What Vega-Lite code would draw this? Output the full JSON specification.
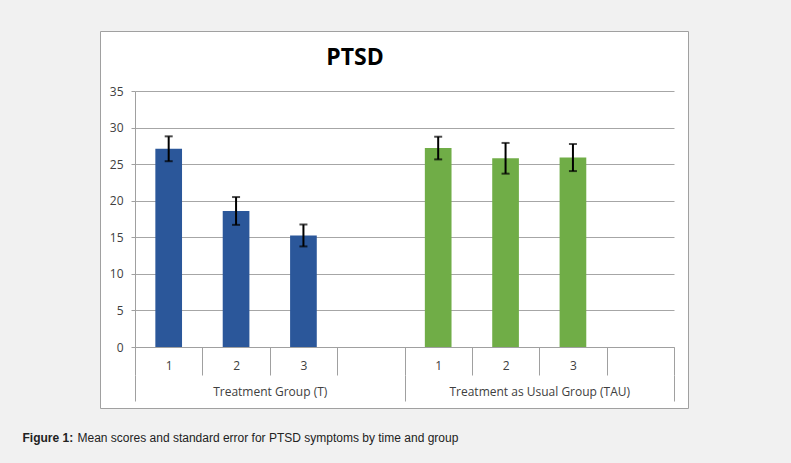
{
  "$schema": "https://vega.github.io/schema/vega-lite/v6.json",
  "width": 588,
  "height": 377,
  "autosize": {"type": "none"},
  "padding": {"left": 100, "top": 31, "right": 103, "bottom": 55},
  "background": "#f1f1f1",
  "view": {"fill": "white", "stroke": "#a0a0a0", "strokeWidth": 1},
  "title": {
    "text": "PTSD",
    "font": "Open Sans",
    "fontSize": 23,
    "fontWeight": "bold",
    "color": "#000000",
    "anchor": "middle",
    "frame": "bounds",
    "baseline": "alphabetic",
    "offset": -35,
    "dy": 22
  },
  "data": {
    "values": [
      {"bar": "T1", "group": "Treatment Group (T)", "time": "1", "mean": 27.1, "se": 1.7},
      {"bar": "T2", "group": "Treatment Group (T)", "time": "2", "mean": 18.6, "se": 1.9},
      {"bar": "T3", "group": "Treatment Group (T)", "time": "3", "mean": 15.25, "se": 1.5},
      {"bar": "U1", "group": "Treatment as Usual Group (TAU)", "time": "1", "mean": 27.2, "se": 1.55},
      {"bar": "U2", "group": "Treatment as Usual Group (TAU)", "time": "2", "mean": 25.8, "se": 2.1},
      {"bar": "U3", "group": "Treatment as Usual Group (TAU)", "time": "3", "mean": 25.9, "se": 1.85}
    ]
  },
  "layer": [
    {
      "encoding": {
        "x": {
          "field": "bar",
          "type": "nominal",
          "scale": {
            "domain": ["T1", "T2", "T3", "T4", "U1", "U2", "U3", "U4"],
            "range": [35, 574],
            "paddingInner": 0.604,
            "paddingOuter": 0.302
          },
          "axis": null
        }
      },
      "layer": [
        {
          "mark": {"type": "bar"},
          "encoding": {
            "y": {
              "field": "mean",
              "type": "quantitative",
              "scale": {"domain": [0, 35], "range": [316, 60], "nice": false, "zero": true},
              "axis": {
                "orient": "left",
                "offset": -35,
                "values": [0, 5, 10, 15, 20, 25, 30, 35],
                "title": null,
                "grid": true,
                "gridColor": "#a6a6a6",
                "gridWidth": 1,
                "domain": true,
                "domainColor": "#a0a0a0",
                "ticks": true,
                "tickSize": 4,
                "tickColor": "#a0a0a0",
                "labelPadding": 8,
                "labelFont": "Open Sans",
                "labelFontSize": 12,
                "labelColor": "#404040"
              }
            },
            "color": {
              "field": "group",
              "type": "nominal",
              "scale": {
                "domain": ["Treatment Group (T)", "Treatment as Usual Group (TAU)"],
                "range": ["#2b579a", "#70ad47"]
              },
              "legend": null
            }
          }
        },
        {
          "mark": {"type": "errorbar", "ticks": true, "color": "#000000", "thickness": 2, "size": 8},
          "encoding": {
            "y": {"field": "mean", "type": "quantitative"},
            "yError": {"field": "se"}
          }
        }
      ]
    },
    {
      "mark": {"type": "point", "opacity": 0},
      "encoding": {
        "x": {
          "datum": 0,
          "type": "quantitative",
          "scale": {"domain": [0, 8], "range": [35, 574], "nice": false, "zero": false},
          "axis": {
            "orient": "bottom",
            "offset": -61,
            "values": [0, 0.5, 1, 1.5, 2, 2.5, 3, 3.5, 4, 4.5, 5, 5.5, 6, 6.5, 7, 7.5, 8],
            "labelExpr": "datum.value == 0.5 || datum.value == 4.5 ? '1' : datum.value == 1.5 || datum.value == 5.5 ? '2' : datum.value == 2.5 || datum.value == 6.5 ? '3' : ''",
            "grid": false,
            "domain": true,
            "domainColor": "#a0a0a0",
            "ticks": true,
            "tickSize": 28,
            "tickColor": "#a0a0a0",
            "tickOpacity": {"condition": {"test": "datum.value % 1 !== 0", "value": 0}, "value": 1},
            "labelPadding": -15,
            "labelFlush": false,
            "labelOverlap": false,
            "labelFont": "Open Sans",
            "labelFontSize": 12,
            "labelColor": "#404040",
            "title": "Figure 1:",
            "titleX": -78,
            "titleY": 94,
            "titleAlign": "left",
            "titleAnchor": null,
            "titleBaseline": "alphabetic",
            "titleFont": "Liberation Sans",
            "titleFontSize": 12,
            "titleFontWeight": "bold",
            "titleColor": "#222222"
          }
        }
      }
    },
    {
      "mark": {"type": "point", "opacity": 0},
      "encoding": {
        "x": {
          "datum": 0,
          "type": "quantitative",
          "scale": {"domain": [0, 2], "range": [35, 574], "nice": false, "zero": false},
          "axis": {
            "orient": "bottom",
            "offset": -33,
            "values": [0, 0.5, 1, 1.5, 2],
            "labelExpr": "datum.value == 0.5 ? 'Treatment Group (T)' : datum.value == 1.5 ? 'Treatment as Usual Group (TAU)' : ''",
            "grid": false,
            "domain": false,
            "ticks": true,
            "tickSize": 26,
            "tickColor": "#a0a0a0",
            "tickOpacity": {"condition": {"test": "datum.value % 1 !== 0", "value": 0}, "value": 1},
            "labelPadding": -15,
            "labelFlush": false,
            "labelOverlap": false,
            "labelLimit": 0,
            "labelFont": "Open Sans",
            "labelFontSize": 12,
            "labelColor": "#404040",
            "title": "Mean scores and standard error for PTSD symptoms by time and group",
            "titleX": -23,
            "titleY": 66,
            "titleAlign": "left",
            "titleAnchor": null,
            "titleBaseline": "alphabetic",
            "titleFont": "Liberation Sans",
            "titleFontSize": 12,
            "titleFontWeight": "normal",
            "titleColor": "#222222",
            "titleLimit": 0
          }
        }
      }
    }
  ],
  "resolve": {"scale": {"x": "independent"}, "axis": {"x": "independent"}}
}
